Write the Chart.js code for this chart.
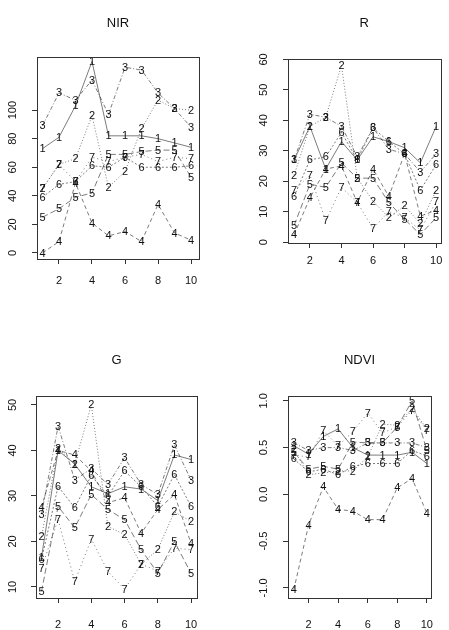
<!DOCTYPE html>
<html>
<head>
<meta charset="utf-8">
<script src="https://cdn.jsdelivr.net/npm/chart.js@4"></script>
<style>
  html, body { margin: 0; padding: 0; background: #fff; }
  body { width: 449px; height: 630px; position: relative; overflow: hidden; }
  canvas { position: absolute; }
</style>
</head>
<body>
<canvas id="nir" width="225" height="300" style="left:0;top:0"></canvas>
<canvas id="red" width="224" height="300" style="left:225px;top:0"></canvas>
<canvas id="green" width="225" height="315" style="left:0;top:315px"></canvas>
<canvas id="ndvi" width="224" height="315" style="left:225px;top:315px"></canvas>
<script>
// dates 1..10, series labelled 1..7
const days = [1, 2, 3, 4, 5, 6, 7, 8, 9, 10];
const seriesNames = ["1", "2", "3", "4", "5", "6", "7"];
const xTicks = [2, 4, 6, 8, 10];

const nirTicks = [0, 20, 40, 60, 80, 100];
const redTicks = [0, 10, 20, 30, 40, 50, 60];
const greenTicks = [10, 20, 30, 40, 50];
const ndviTicks = [-1.0, -0.5, 0.0, 0.5, 1.0];

const nirSeries = [
  [73, 81, 103, 134, 82, 82, 82, 80, 77, 74],
  [45, 62, 66, 96, 46, 57, 87, 107, 101, 100],
  [89, 112, 107, 121, 97, 130, 128, 112, 101, 88],
  [0, 8, 49, 21, 12, 15, 8, 34, 14, 9],
  [25, 31, 39, 42, 69, 69, 71, 72, 72, 53],
  [39, 48, 50, 61, 60, 67, 60, 60, 60, 61],
  [45, 62, 50, 67, 64, 67, 69, 64, 67, 66],
];
const redSeries = [
  [27, 38, 24, 33, 27, 34.6, 33, 31, 26, 38],
  [22, 38, 41, 58, 21, 13.5, 8, 12, 6, 17],
  [27, 42, 41, 38, 28, 37.5, 30.5, 29, 23, 29],
  [2.5, 14.5, 24, 25, 13, 24, 15, 29, 8.5, 10.5],
  [5.5, 19, 18, 26, 21, 21, 13, 7.5, 2.5, 8],
  [15, 27, 28, 36, 27, 37.5, 33, 29, 17, 25.5],
  [17, 22, 7, 18, 13, 4.5, 10, 8, 4, 13.3],
];
const greenSeries = [
  [16.5, 40, 37, 32, 30.5, 32, 31.5, 29, 39, 38],
  [21, 40.5, 37, 50, 23.3, 21.5, 15, 18.2, 26.5, 24.4],
  [26, 45.3, 33.5, 36, 32.5, 38.4, 32.5, 30.3, 41.2, 33.5],
  [27.5, 40, 39, 35.5, 28.5, 29.6, 21.8, 27, 30.3, 19.6],
  [9, 27.7, 23, 30.3, 27, 24.8, 18.2, 13, 20, 13],
  [16, 32.1, 27.4, 34.5, 30, 35.5, 32, 27.7, 34.7, 27.7],
  [14.1, 24.8, 11.2, 20.5, 13.4, 9.5, 15, 13.5, 18.5, 18.2],
];
const ndviSeries = [
  [0.52, 0.43, 0.62, 0.7, 0.5, 0.42, 0.42, 0.42, 0.45, 0.33],
  [0.48, 0.21, 0.23, 0.25, 0.25, 0.4, 0.75, 0.74, 0.92, 0.7],
  [0.55, 0.47, 0.5, 0.5, 0.47, 0.55, 0.55, 0.55, 0.55, 0.5],
  [-1.02, -0.33, 0.08, -0.16, -0.18, -0.27, -0.27, 0.07, 0.17, -0.2],
  [0.45, 0.27, 0.3, 0.27, 0.56, 0.55, 0.55, 0.72, 1.0, 0.47],
  [0.38, 0.24, 0.27, 0.21, 0.3, 0.33, 0.33, 0.33, 0.47, 0.41],
  [0.42, 0.4, 0.68, 0.52, 0.67, 0.87, 0.66, 0.72, 0.9, 0.68],
];

// line types per series
const dashes = [[], [1, 2], [4, 2, 1, 2], [4, 3], [6, 3], [2, 2], [1, 3]];

Chart.defaults.font.family = "'Liberation Sans', Arial, sans-serif";
Chart.defaults.font.size = 11;
Chart.defaults.color = "#111";

// box round the plot region
const frame = {
  id: "frame",
  afterDraw(chart) {
    const a = chart.chartArea;
    const c = chart.ctx;
    c.save();
    c.strokeStyle = "#333";
    c.lineWidth = 1;
    c.strokeRect(Math.round(a.left) + 0.5, Math.round(a.top) + 0.5,
      Math.round(a.right - a.left), Math.round(a.bottom - a.top));
    c.restore();
  },
};

// series number as the point symbol
const digits = {
  id: "digits",
  afterDatasetsDraw(chart) {
    const c = chart.ctx;
    c.save();
    c.font = "11px 'Liberation Sans', Arial, sans-serif";
    c.fillStyle = "#111";
    c.textAlign = "center";
    c.textBaseline = "middle";
    chart.data.datasets.forEach((ds, i) => {
      chart.getDatasetMeta(i).data.forEach((pt) => {
        c.fillText(ds.label, pt.x, pt.y + 0.5);
      });
    });
    c.restore();
  },
};

function makePanel(id, title, series, yTicks, fmt, g) {
  const ctx = document.getElementById(id).getContext("2d");
  return new Chart(ctx, {
    type: "line",
    data: {
      datasets: series.map((vals, i) => ({
        label: seriesNames[i],
        data: vals.map((v, j) => ({ x: days[j], y: v })),
        borderColor: "rgba(30, 30, 30, 0.65)",
        borderWidth: 0.9,
        borderDash: dashes[i],
        pointRadius: 0,
        tension: 0,
        fill: false,
      })),
    },
    options: {
      responsive: false,
      animation: false,
      layout: { padding: { left: 0, right: g.padRight, top: 0, bottom: 0 } },
      scales: {
        x: {
          type: "linear",
          min: g.xMin,
          max: g.xMax,
          afterBuildTicks: (s) => { s.ticks = xTicks.map((v) => ({ value: v })); },
          afterFit: (s) => { s.height = g.xAxisH; },
          grid: { drawOnChartArea: false, tickLength: 5, color: "#333" },
          border: { display: false },
          ticks: { padding: g.xPad, minRotation: 0, maxRotation: 0 },
        },
        y: {
          min: g.yMin,
          max: g.yMax,
          afterBuildTicks: (s) => { s.ticks = yTicks.map((v) => ({ value: v })); },
          afterFit: (s) => { s.width = g.yAxisW; },
          grid: { drawOnChartArea: false, tickLength: 5, color: "#333" },
          border: { display: false },
          ticks: {
            minRotation: 90,
            maxRotation: 90,
            crossAlign: "center",
            padding: g.yPad,
            callback: fmt,
          },
        },
      },
      plugins: {
        legend: { display: false },
        tooltip: { enabled: false },
        title: {
          display: true,
          text: title,
          fullSize: false,
          padding: { top: g.titleTop, bottom: g.titleBottom },
          font: { size: 13, weight: "normal" },
          color: "#111",
        },
      },
    },
    plugins: [frame, digits],
  });
}

const plain = (v) => String(v);
const oneDec = (v) => v.toFixed(1);

makePanel("nir", "NIR", nirSeries, nirTicks, plain, {
  xMin: 0.67, xMax: 10.48, yMin: -4.2, yMax: 137.3,
  yAxisW: 37, xAxisH: 41, padRight: 26, xPad: 10.5, yPad: 10,
  titleTop: 16, titleBottom: 25.2,
});
makePanel("red", "R", redSeries, redTicks, plain, {
  xMin: 0.61, xMax: 10.28, yMin: -0.3, yMax: 60.2,
  yAxisW: 63, xAxisH: 57, padRight: 1, xPad: 6.5, yPad: 12.6,
  titleTop: 16, titleBottom: 27.2,
});
makePanel("green", "G", greenSeries, greenTicks, plain, {
  xMin: 0.67, xMax: 10.36, yMin: 7.57, yMax: 52,
  yAxisW: 36, xAxisH: 32, padRight: 28, xPad: 15.5, yPad: 11.6,
  titleTop: 38, titleBottom: 27.2,
});
makePanel("ndvi", "NDVI", ndviSeries, ndviTicks, oneDec, {
  xMin: 0.61, xMax: 10.28, yMin: -1.108, yMax: 1.054,
  yAxisW: 63, xAxisH: 32, padRight: 1, xPad: 15.5, yPad: 9.2,
  titleTop: 38, titleBottom: 27.2,
});
</script>
</body>
</html>
